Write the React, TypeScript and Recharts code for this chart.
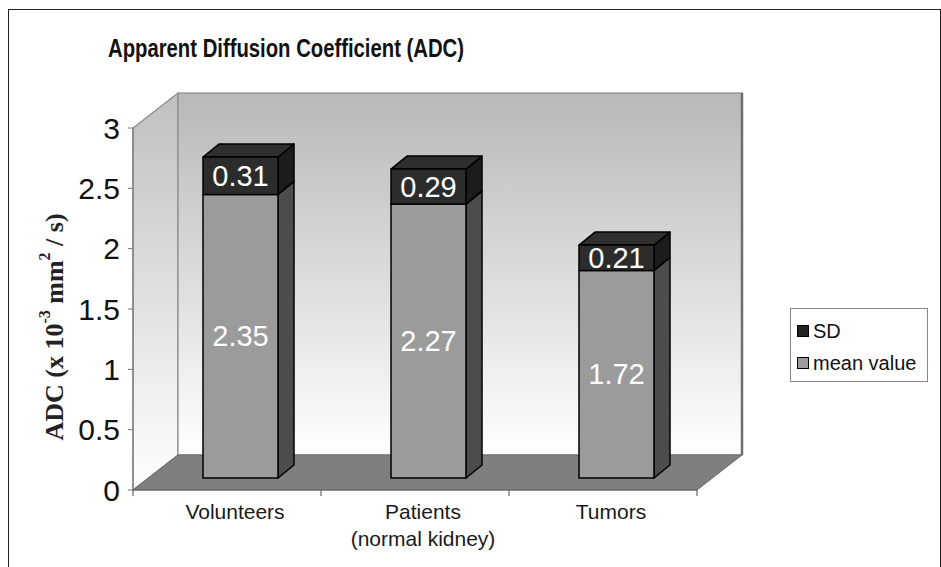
import { BarChart, Bar, XAxis, YAxis, ReferenceArea, LabelList } from 'recharts'

const categories = ['Volunteers', 'Patients\n(normal kidney)', 'Tumors']
const meanValues = [2.35, 2.27, 1.72]
const sdValues = [0.31, 0.29, 0.21]
const yTicks = [0, 0.5, 1, 1.5, 2, 2.5, 3]

const data = categories.map((name, i) => ({ name, mean: meanValues[i], sd: sdValues[i] }))

const SANS = '"Liberation Sans", Arial, Helvetica, sans-serif'
const SERIF = '"Liberation Serif", "Times New Roman", serif'

// fake 3D: how far the back wall sits behind the axes, and where the bars sit
const WALL = { dx: 45, dy: -35 }
const BAR_OFF = { dx: 13, dy: -12 }
const BAR_DEPTH = { dx: 16, dy: -13 }

// eslint-disable-next-line @typescript-eslint/no-explicit-any
function Walls(props: any) {
  const { x, y, width: w, height: h } = props
  const { dx, dy } = WALL
  const b = y + h
  const edges = [0, 1, 2, 3].map((i) => x + (w * i) / 3)
  return (
    <g>
      <defs>
        <linearGradient id="backWall" x1="0" y1="0" x2="0" y2="1">
          <stop offset="0%" stopColor="#b8b8b8" />
          <stop offset="100%" stopColor="#ffffff" />
        </linearGradient>
        <linearGradient id="sideWall" x1="0" y1="0" x2="0" y2="1">
          <stop offset="0%" stopColor="#c0c0c0" />
          <stop offset="100%" stopColor="#ffffff" />
        </linearGradient>
      </defs>
      <polygon
        points={`${x},${y} ${x + dx},${y + dy} ${x + dx},${b + dy} ${x},${b}`}
        fill="url(#sideWall)"
        stroke="#8c8c8c"
        strokeWidth={1.2}
      />
      <rect x={x + dx} y={y + dy} width={w} height={h} fill="url(#backWall)" stroke="#8c8c8c" strokeWidth={1.2} />
      <line x1={x + w + dx} y1={y + dy} x2={x + w + dx} y2={b + dy} stroke="#6e6e6e" strokeWidth={2.5} />
      <polygon
        points={`${x},${b} ${x + dx},${b + dy} ${x + w + dx},${b + dy} ${x + w},${b}`}
        fill="#7f7f7f"
        stroke="#6a6a6a"
        strokeWidth={1}
      />
      {edges.map((ex, i) => (
        <line key={i} x1={ex} y1={b} x2={ex} y2={b + 6} stroke="#666" strokeWidth={1.2} />
      ))}
    </g>
  )
}

// eslint-disable-next-line @typescript-eslint/no-explicit-any
function Box3D({ x, y, width, height, front, side, top }: any) {
  if (!width || height == null) return null
  const x0 = x + BAR_OFF.dx
  const y0 = y + BAR_OFF.dy
  const { dx, dy } = BAR_DEPTH
  const x1 = x0 + width
  const y1 = y0 + height
  return (
    <g stroke="#000" strokeWidth={1.5} strokeLinejoin="round">
      <polygon points={`${x1},${y0} ${x1 + dx},${y0 + dy} ${x1 + dx},${y1 + dy} ${x1},${y1}`} fill={side} />
      {top && (
        <polygon points={`${x0},${y0} ${x0 + dx},${y0 + dy} ${x1 + dx},${y0 + dy} ${x1},${y0}`} fill={top} />
      )}
      <rect x={x0} y={y0} width={width} height={height} fill={front} />
    </g>
  )
}

// eslint-disable-next-line @typescript-eslint/no-explicit-any
const meanShape = (p: any) => <Box3D {...p} front="#9b9b9b" side="#4c4c4c" />
// eslint-disable-next-line @typescript-eslint/no-explicit-any
const sdShape = (p: any) => <Box3D {...p} front="#2c2c2c" side="#1c1c1c" top="#2f2f2f" />

// eslint-disable-next-line @typescript-eslint/no-explicit-any
function renderValue(p: any) {
  const vb = p.viewBox ?? p
  const { x, y, width, height } = vb
  return (
    <text
      x={x + width / 2 + BAR_OFF.dx}
      y={y + height / 2 + BAR_OFF.dy}
      textAnchor="middle"
      dominantBaseline="central"
      fill="#fff"
      fontSize={29}
      fontFamily={SANS}
    >
      {Number(p.value).toFixed(2)}
    </text>
  )
}

// eslint-disable-next-line @typescript-eslint/no-explicit-any
function CategoryTick({ x, y, payload }: any) {
  const lines = String(payload.value).split('\n')
  return (
    <text textAnchor="middle" fontSize={21} fill="#1a1a1a" fontFamily={SANS}>
      {lines.map((l, i) => (
        <tspan key={i} x={x + 8} y={y + 29 + i * 27}>
          {l}
        </tspan>
      ))}
    </text>
  )
}

// eslint-disable-next-line @typescript-eslint/no-explicit-any
function YTitle(p: any) {
  const vb = p.viewBox
  const cx = vb.x - 19
  const cy = vb.y + vb.height / 2 + 18
  return (
    <text
      transform={`translate(${cx},${cy}) rotate(-90)`}
      textAnchor="middle"
      dominantBaseline="central"
      fontFamily={SERIF}
      fontWeight="bold"
      fontSize={26}
      fill="#222"
    >
      ADC (x 10
      <tspan fontSize={16} dy={-10}>-3</tspan>
      <tspan dy={10}> mm</tspan>
      <tspan fontSize={16} dy={-10}>2</tspan>
      <tspan dy={10}> / s)</tspan>
    </text>
  )
}

function Swatch({ color }: { color: string }) {
  return <span style={{ display: 'inline-block', width: 10, height: 10, background: color, border: '1px solid #000', marginRight: 4 }} />
}

export default function App() {
  return (
    <div style={{ position: 'fixed', inset: 0, overflow: 'hidden', background: '#fff' }}>
      <div
        style={{
          position: 'absolute',
          left: 8,
          top: 9,
          width: 931,
          height: 600,
          border: '1.5px solid #222',
        }}
      />
      <div style={{ position: 'absolute', left: 0, top: 0 }}>
        <BarChart width={941} height={567} data={data} margin={{ top: 128, right: 244, bottom: 17, left: 73 }}>
          <ReferenceArea y1={0} y2={3} shape={Walls} ifOverflow="visible" />
          <XAxis
            dataKey="name"
            height={60}
            axisLine={{ stroke: '#666', strokeWidth: 1.2 }}
            tickLine={false}
            tickSize={0}
            tickMargin={0}
            tick={<CategoryTick />}
            interval={0}
          />
          <YAxis
            width={60}
            domain={[0, 3]}
            ticks={yTicks}
            tickSize={5}
            tickMargin={8}
            axisLine={{ stroke: '#777', strokeWidth: 1.2 }}
            tickLine={{ stroke: '#777' }}
            tick={{ fontSize: 30, fill: '#111', fontFamily: SANS }}
            label={{ content: YTitle }}
          />
          <Bar dataKey="mean" stackId="a" barSize={75} fill="#9b9b9b" shape={meanShape} isAnimationActive={false}>
            <LabelList dataKey="mean" content={renderValue} />
          </Bar>
          <Bar dataKey="sd" stackId="a" barSize={75} fill="#2c2c2c" shape={sdShape} isAnimationActive={false}>
            <LabelList dataKey="sd" content={renderValue} />
          </Bar>
        </BarChart>
      </div>
      <svg width={941} height={80} style={{ position: 'absolute', left: 0, top: 0, pointerEvents: 'none' }}>
        <text
          x={108}
          y={57}
          fontFamily={SANS}
          fontWeight="bold"
          fontSize={25}
          fill="#111"
          textLength={356}
          lengthAdjust="spacingAndGlyphs"
        >
          Apparent Diffusion Coefficient (ADC)
        </text>
      </svg>
      <div
        style={{
          position: 'absolute',
          left: 790,
          top: 308,
          width: 138,
          height: 74,
          border: '1.5px solid #888',
          background: '#fff',
          fontFamily: SANS,
          fontSize: 20,
          color: '#111',
          boxSizing: 'border-box',
          padding: '6px 0 0 6px',
          lineHeight: '32px',
        }}
      >
        <div style={{ display: 'flex', alignItems: 'center', height: 32 }}>
          <Swatch color="#222" />
          SD
        </div>
        <div style={{ display: 'flex', alignItems: 'center', height: 32 }}>
          <Swatch color="#9b9b9b" />
          mean value
        </div>
      </div>
    </div>
  )
}
